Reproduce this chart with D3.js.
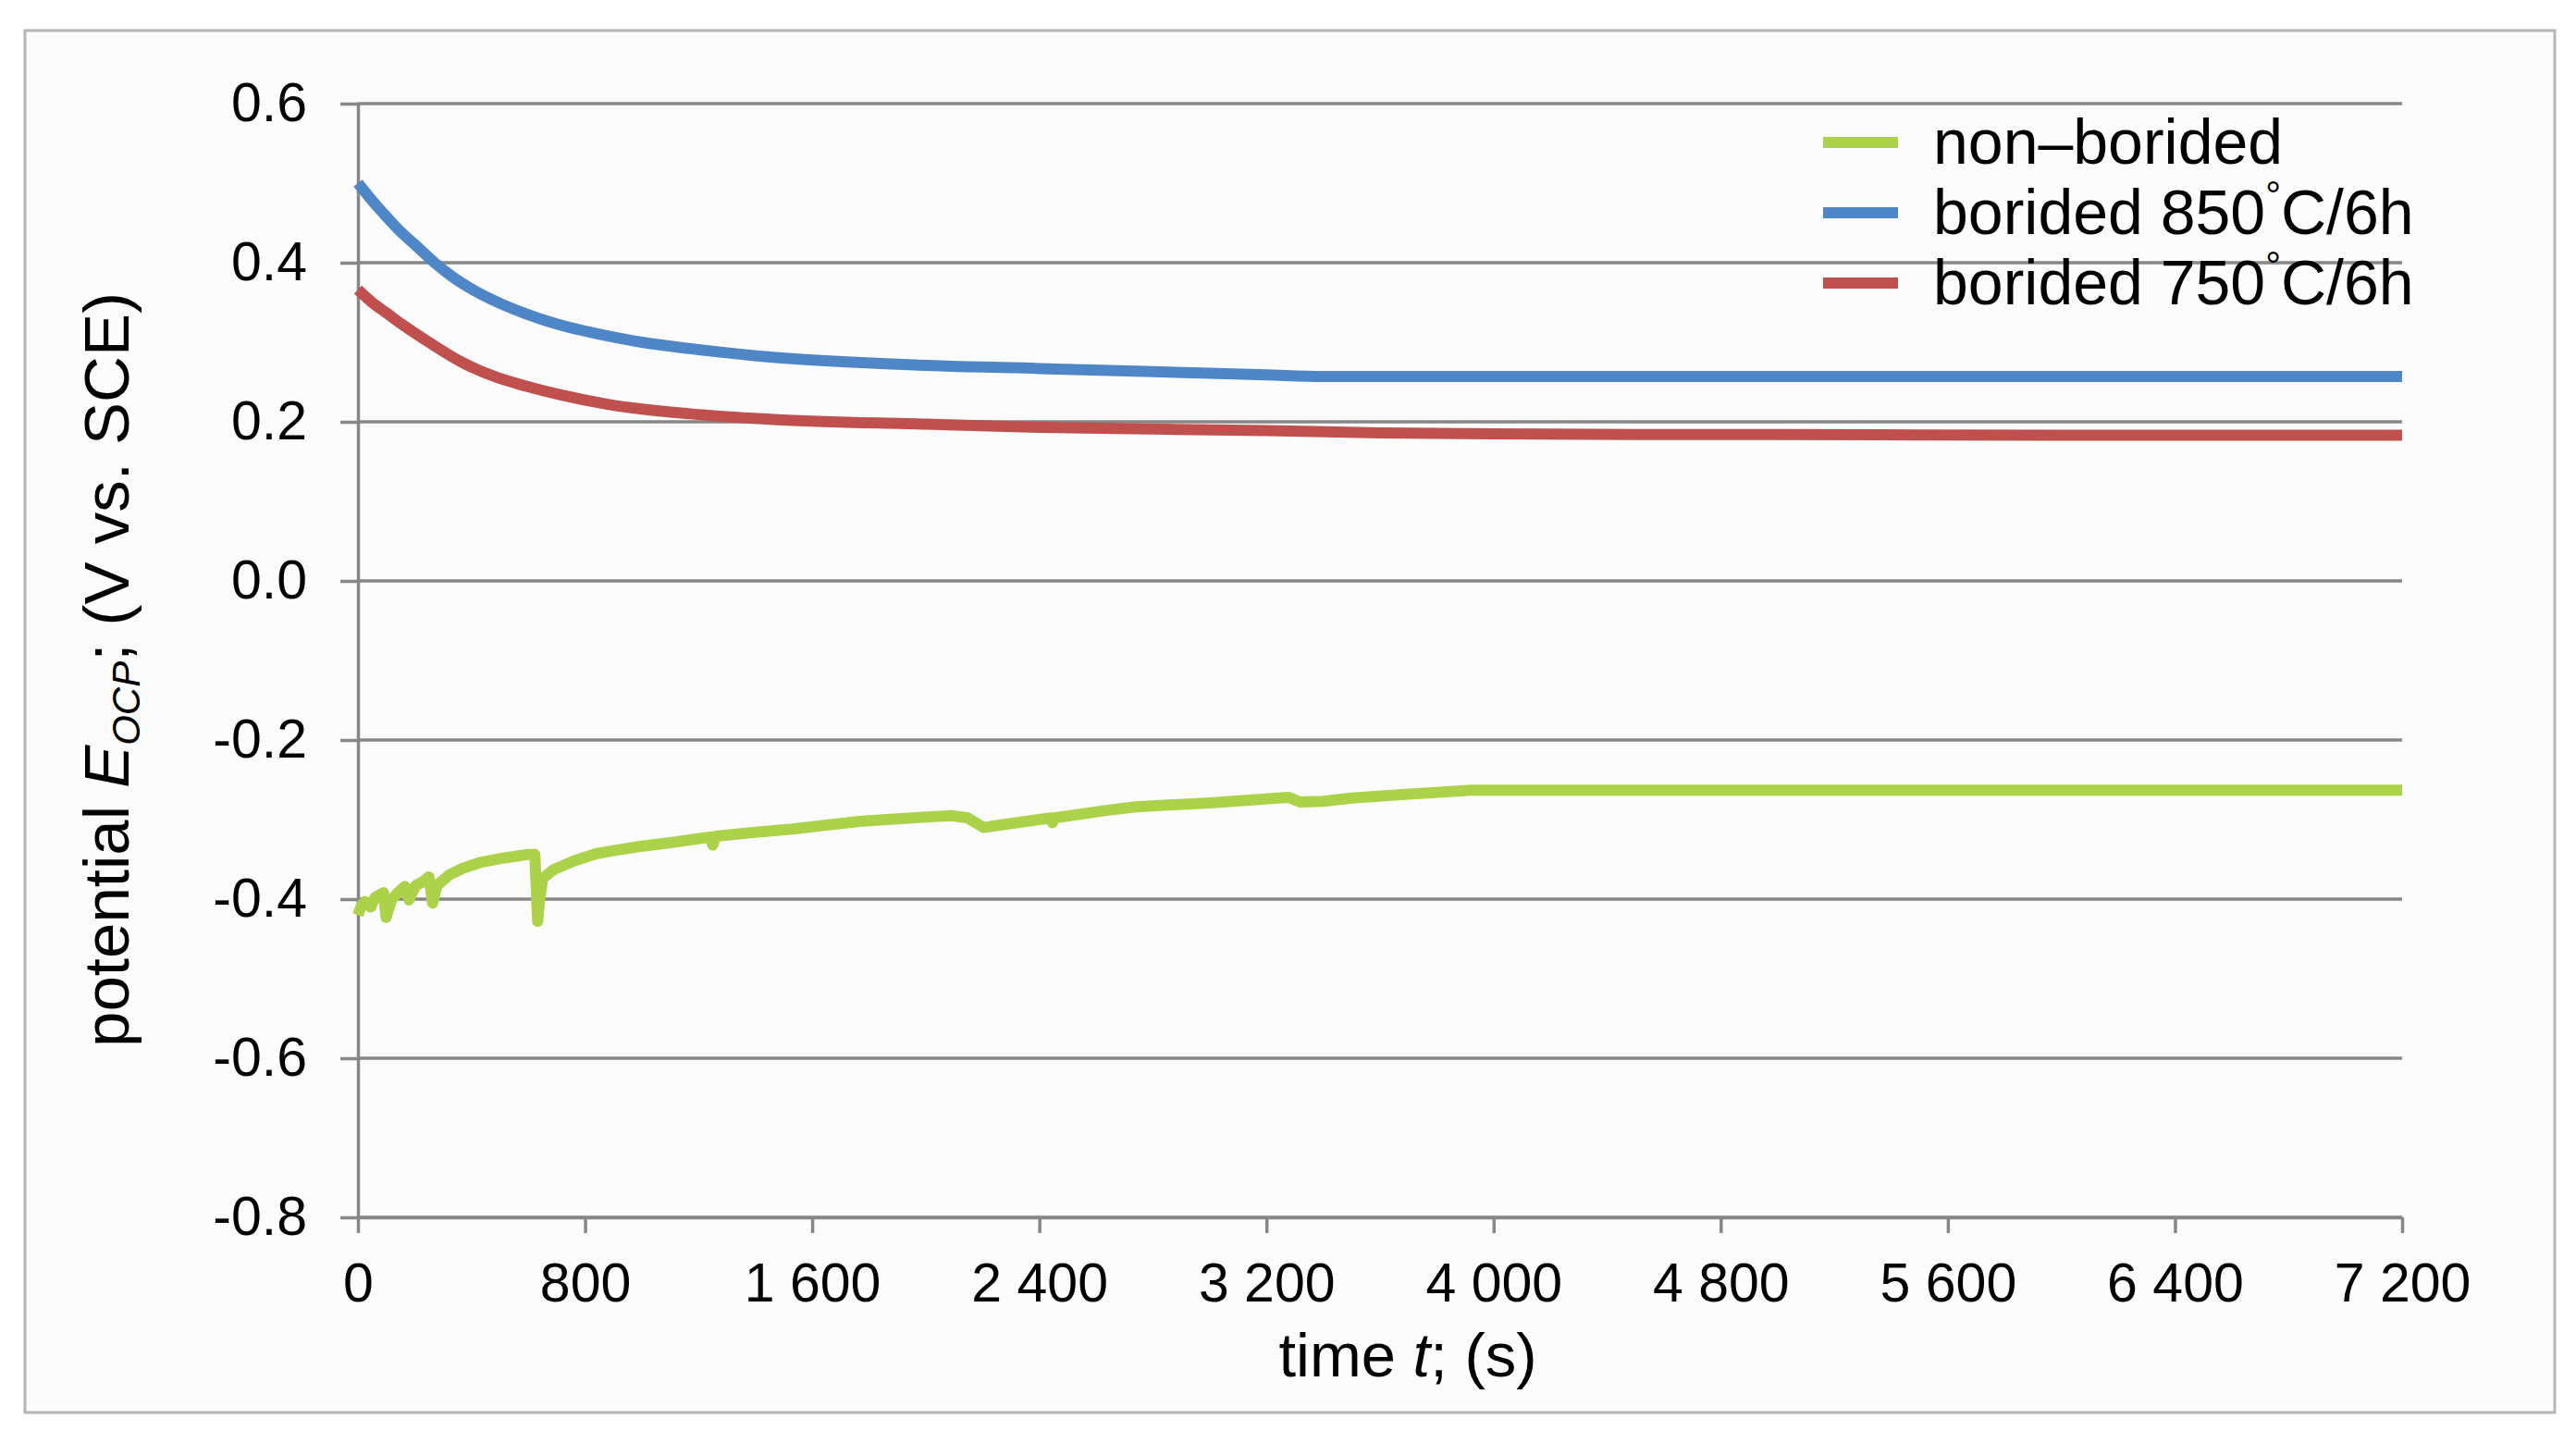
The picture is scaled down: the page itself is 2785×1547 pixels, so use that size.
<!DOCTYPE html>
<html>
<head>
<meta charset="utf-8">
<script src="https://cdn.jsdelivr.net/npm/d3@7"></script>
<style>
  html, body { margin: 0; padding: 0; background: #ffffff; }
  svg { display: block; }
  text { font-family: "Liberation Sans", Arial, sans-serif; fill: #000; }
</style>
</head>
<body>
<svg id="chart" width="2785" height="1547"></svg>
<script>
// ---------------- data ----------------
const seriesNames = ["non\u2013borided", "borided 850", "borided 750"];
const seriesSuffix = ["", "C/6h", "C/6h"];
const seriesColors = ["#acd24a", "#4f86c7", "#c0504d"];

const xTicks = [0, 800, 1600, 2400, 3200, 4000, 4800, 5600, 6400, 7200];
const xTickLabels = ["0", "800", "1 600", "2 400", "3 200", "4 000", "4 800", "5 600", "6 400", "7 200"];
const yTicks = [-0.8, -0.6, -0.4, -0.2, 0.0, 0.2, 0.4, 0.6];
const yTickLabels = ["-0.8", "-0.6", "-0.4", "-0.2", "0.0", "0.2", "0.4", "0.6"];

// non-borided (green)
const greenTime = [0, 12, 25, 45, 60, 90, 99, 118, 140, 165, 180, 203, 230, 250, 263, 278, 320, 371, 430, 502, 560, 595, 623, 633, 640, 651, 689,
  760, 838, 900, 988, 1100, 1240, 1250, 1260, 1400, 1530, 1650, 1774, 1950, 2091, 2148, 2204, 2260, 2440, 2446, 2452, 2648, 2739, 3000, 3277,
  3320, 3400, 3500, 3700, 3922, 4500, 5500, 6500, 7200];
const greenValues = [-0.420, -0.408, -0.403, -0.410, -0.398, -0.392, -0.423, -0.401, -0.392, -0.384, -0.401, -0.383, -0.378, -0.372, -0.405, -0.383,
  -0.370, -0.361, -0.354, -0.349, -0.346, -0.344, -0.344, -0.428, -0.40, -0.374, -0.363,
  -0.352, -0.343, -0.339, -0.334, -0.329, -0.322, -0.332, -0.321, -0.316, -0.312, -0.307, -0.302, -0.298, -0.295, -0.298, -0.310, -0.307, -0.298, -0.304, -0.298,
  -0.288, -0.284, -0.279, -0.272, -0.278, -0.277, -0.273, -0.268, -0.263, -0.263, -0.263, -0.263, -0.263];

// borided 850°C/6h (blue)
const blueTime = [0, 50, 100, 153, 200, 270, 330, 400, 500, 590, 700, 880, 1000, 1170, 1462, 2000, 2400, 2800, 3200, 3400, 4000, 5000, 6000, 7200];
const blueValues = [0.500, 0.478, 0.458, 0.438, 0.423, 0.400, 0.383, 0.367, 0.349, 0.336, 0.323, 0.308, 0.300, 0.292, 0.281, 0.271, 0.267, 0.263, 0.259, 0.257, 0.257, 0.257, 0.257, 0.257];

// borided 750°C/6h (red)
const redTime = [0, 50, 100, 153, 250, 371, 480, 590, 700, 880, 1170, 1462, 2000, 2400, 3200, 3600, 4000, 4500, 5000, 6000, 7200];
const redValues = [0.366, 0.350, 0.337, 0.323, 0.300, 0.274, 0.257, 0.245, 0.235, 0.222, 0.210, 0.203, 0.197, 0.193, 0.189, 0.186, 0.185, 0.184, 0.184, 0.183, 0.183];

// ---------------- layout ----------------
const svg = d3.select("#chart");
const L = 387, R = 2597, T = 112, B = 1316;
const gridColor = "#878787";
const fontFam = "Liberation Sans, Arial, sans-serif";

svg.append("rect").attr("x", 27).attr("y", 33).attr("width", 2735).attr("height", 1494)
  .attr("fill", "#fcfcfc").attr("stroke", "#b5b5b5").attr("stroke-width", 3);

const x = d3.scaleLinear().domain([0, 7200]).range([L, R]);
const y = d3.scaleLinear().domain([-0.8, 0.6]).range([B, T]);

// gridlines
svg.append("g").selectAll("line").data(yTicks).join("line")
  .attr("x1", L).attr("x2", R)
  .attr("y1", d => y(d)).attr("y2", d => y(d))
  .attr("stroke", gridColor).attr("stroke-width", 3.5);

// y axis
const yAxis = svg.append("g").attr("transform", `translate(${L},0)`)
  .call(d3.axisLeft(y).tickValues(yTicks).tickSize(19).tickSizeOuter(0).tickPadding(36)
    .tickFormat((d, i) => yTickLabels[i]));
yAxis.select(".domain").attr("stroke", gridColor).attr("stroke-width", 3.5);
yAxis.selectAll(".tick line").attr("stroke", gridColor).attr("stroke-width", 3.5);
yAxis.selectAll(".tick text").attr("font-size", 59).attr("font-family", fontFam).attr("fill", "#000");

// x axis
const xAxis = svg.append("g").attr("transform", `translate(0,${B})`)
  .call(d3.axisBottom(x).tickValues(xTicks).tickSize(17).tickSizeOuter(0).tickPadding(32)
    .tickFormat((d, i) => xTickLabels[i]));
xAxis.select(".domain").attr("stroke", gridColor).attr("stroke-width", 3.5);
xAxis.selectAll(".tick line").attr("stroke", gridColor).attr("stroke-width", 3.5);
xAxis.selectAll(".tick text").attr("font-size", 59).attr("font-family", fontFam).attr("fill", "#000");

// series
const smooth = d3.line().x(d => x(d[0])).y(d => y(d[1])).curve(d3.curveMonotoneX);
const jagged = d3.line().x(d => x(d[0])).y(d => y(d[1])).curve(d3.curveLinear);

const greenData = greenTime.map((t, i) => [t, greenValues[i]]);
const blueData = blueTime.map((t, i) => [t, blueValues[i]]);
const redData = redTime.map((t, i) => [t, redValues[i]]);

svg.append("path").attr("d", jagged(greenData)).attr("fill", "none")
  .attr("stroke", seriesColors[0]).attr("stroke-width", 12).attr("stroke-linejoin", "round");
svg.append("path").attr("d", smooth(redData)).attr("fill", "none")
  .attr("stroke", seriesColors[2]).attr("stroke-width", 12).attr("stroke-linejoin", "round");
svg.append("path").attr("d", smooth(blueData)).attr("fill", "none")
  .attr("stroke", seriesColors[1]).attr("stroke-width", 12).attr("stroke-linejoin", "round");

// legend
const legend = svg.append("g");
const rowY = [154, 230, 306];
seriesNames.forEach((name, i) => {
  legend.append("line").attr("x1", 1971).attr("x2", 2052).attr("y1", rowY[i]).attr("y2", rowY[i])
    .attr("stroke", seriesColors[i]).attr("stroke-width", 12);
  const t = legend.append("text").attr("x", 2090).attr("y", rowY[i] + 23).attr("font-size", 68);
  t.append("tspan").text(name);
  if (seriesSuffix[i]) {
    t.append("tspan").attr("font-size", 42).attr("dy", -27).text("\u00B0");
    t.append("tspan").attr("dy", 27).text(seriesSuffix[i]);
  }
});

// x axis title
const xt = svg.append("text").attr("x", 1522).attr("y", 1488).attr("text-anchor", "middle").attr("font-size", 67);
xt.append("tspan").text("time ");
xt.append("tspan").attr("font-style", "italic").text("t");
xt.append("tspan").text("; (s)");

// y axis title
const yt = svg.append("text").attr("transform", "translate(139,724) rotate(-90)")
  .attr("text-anchor", "middle").attr("font-size", 69);
yt.append("tspan").text("potential ");
yt.append("tspan").attr("font-style", "italic").text("E");
yt.append("tspan").attr("font-size", 42).attr("font-style", "italic").attr("dy", 12).text("OCP");
yt.append("tspan").attr("dy", -12).text("; (V vs. SCE)");
</script>
</body>
</html>
